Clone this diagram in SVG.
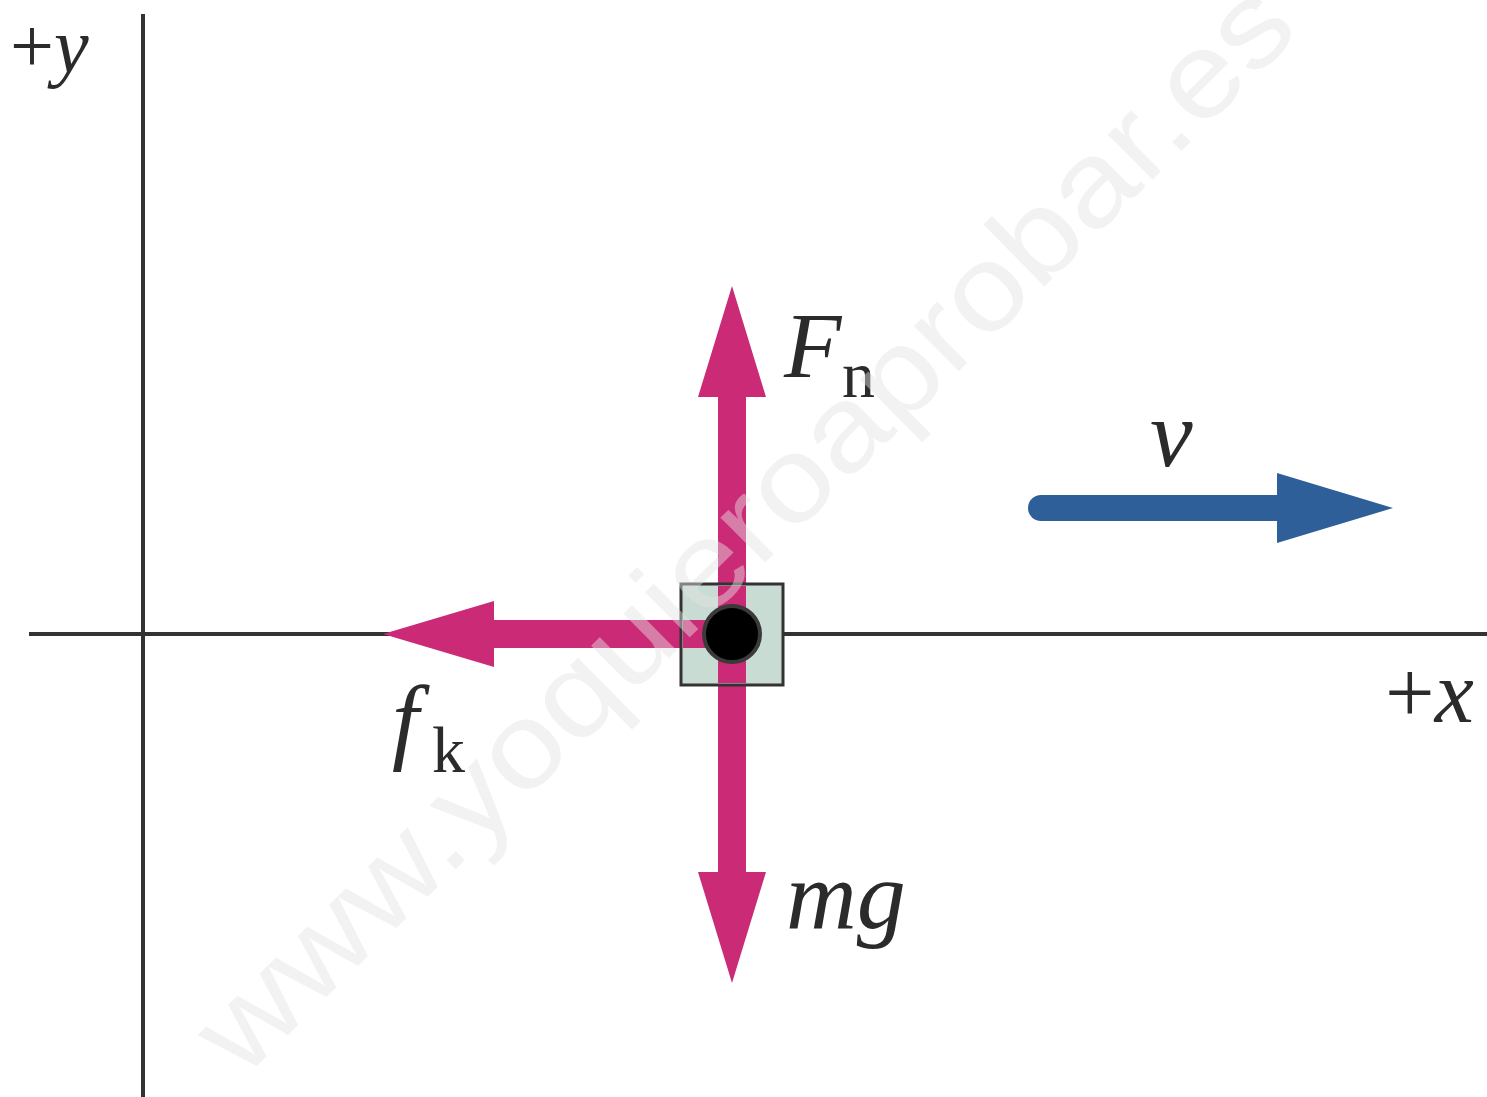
<svg xmlns="http://www.w3.org/2000/svg" width="1487" height="1097" viewBox="0 0 1487 1097">
<style>
.axis{stroke:#333;stroke-width:4;fill:none}
.force{fill:#cb2b76}
.lbl{font-family:"Liberation Serif","DejaVu Serif",serif;fill:#2b2b2b}
.it{font-style:italic}
.wm{font-family:"Liberation Sans","DejaVu Sans",sans-serif;font-size:120px;fill:#e4e4e4;opacity:0.45}
</style>
<rect width="1487" height="1097" fill="#fff"/>
<g id="axes">
<line class="axis" x1="143" y1="14" x2="143" y2="1097"/>
<line class="axis" x1="29" y1="634" x2="1487" y2="634"/>
</g>
<g id="connectors">
<path class="force" d="M718,634 V397 H698 L732,286 L766,397 H746 V634 Z"/>
<path class="force" d="M718,634 V872 H698 L732,983 L766,872 H746 V634 Z"/>
<path class="force" d="M732,620 H494 V601 L383,634 L494,667 V648 H732 Z"/>
<path d="M1041,508 H1277" stroke="#2f5f99" stroke-width="26" stroke-linecap="round" fill="none"/>
<path d="M1277,473 L1393,508 L1277,543 Z" fill="#2f5f99"/>
</g>
<g id="block">
<rect x="681" y="584" width="102" height="101" fill="#c9dcd3" stroke="#333" stroke-width="3"/>
<rect x="718" y="586" width="28" height="97" class="force"/>
<rect x="683" y="620" width="49" height="28" class="force"/>
</g>
<g id="particle">
<circle cx="732" cy="634" r="28" fill="#000" stroke="#3a3a3a" stroke-width="4"/>
</g>
<g id="label-y"><text class="lbl" x="10" y="72" font-size="78">+<tspan class="it">y</tspan></text></g>
<g id="label-x"><text class="lbl" x="1385" y="722" font-size="88">+<tspan class="it">x</tspan></text></g>
<g id="label-Fn"><text class="lbl" x="784" y="377" font-size="94"><tspan class="it">F</tspan><tspan font-size="66" x="842" y="397">n</tspan></text></g>
<g id="label-fk"><text class="lbl" x="392" y="752" font-size="96"><tspan class="it">f</tspan><tspan font-size="66" x="432" y="772">k</tspan></text></g>
<g id="label-mg"><text class="lbl it" x="786" y="928" font-size="98">mg</text></g>
<g id="label-v"><text class="lbl it" x="1150" y="466" font-size="96">v</text></g>
<text class="wm" x="772" y="556" text-anchor="middle" transform="rotate(-44.7 772 556)" textLength="1490" lengthAdjust="spacingAndGlyphs">www.yoquieroaprobar.es</text>
</svg>
